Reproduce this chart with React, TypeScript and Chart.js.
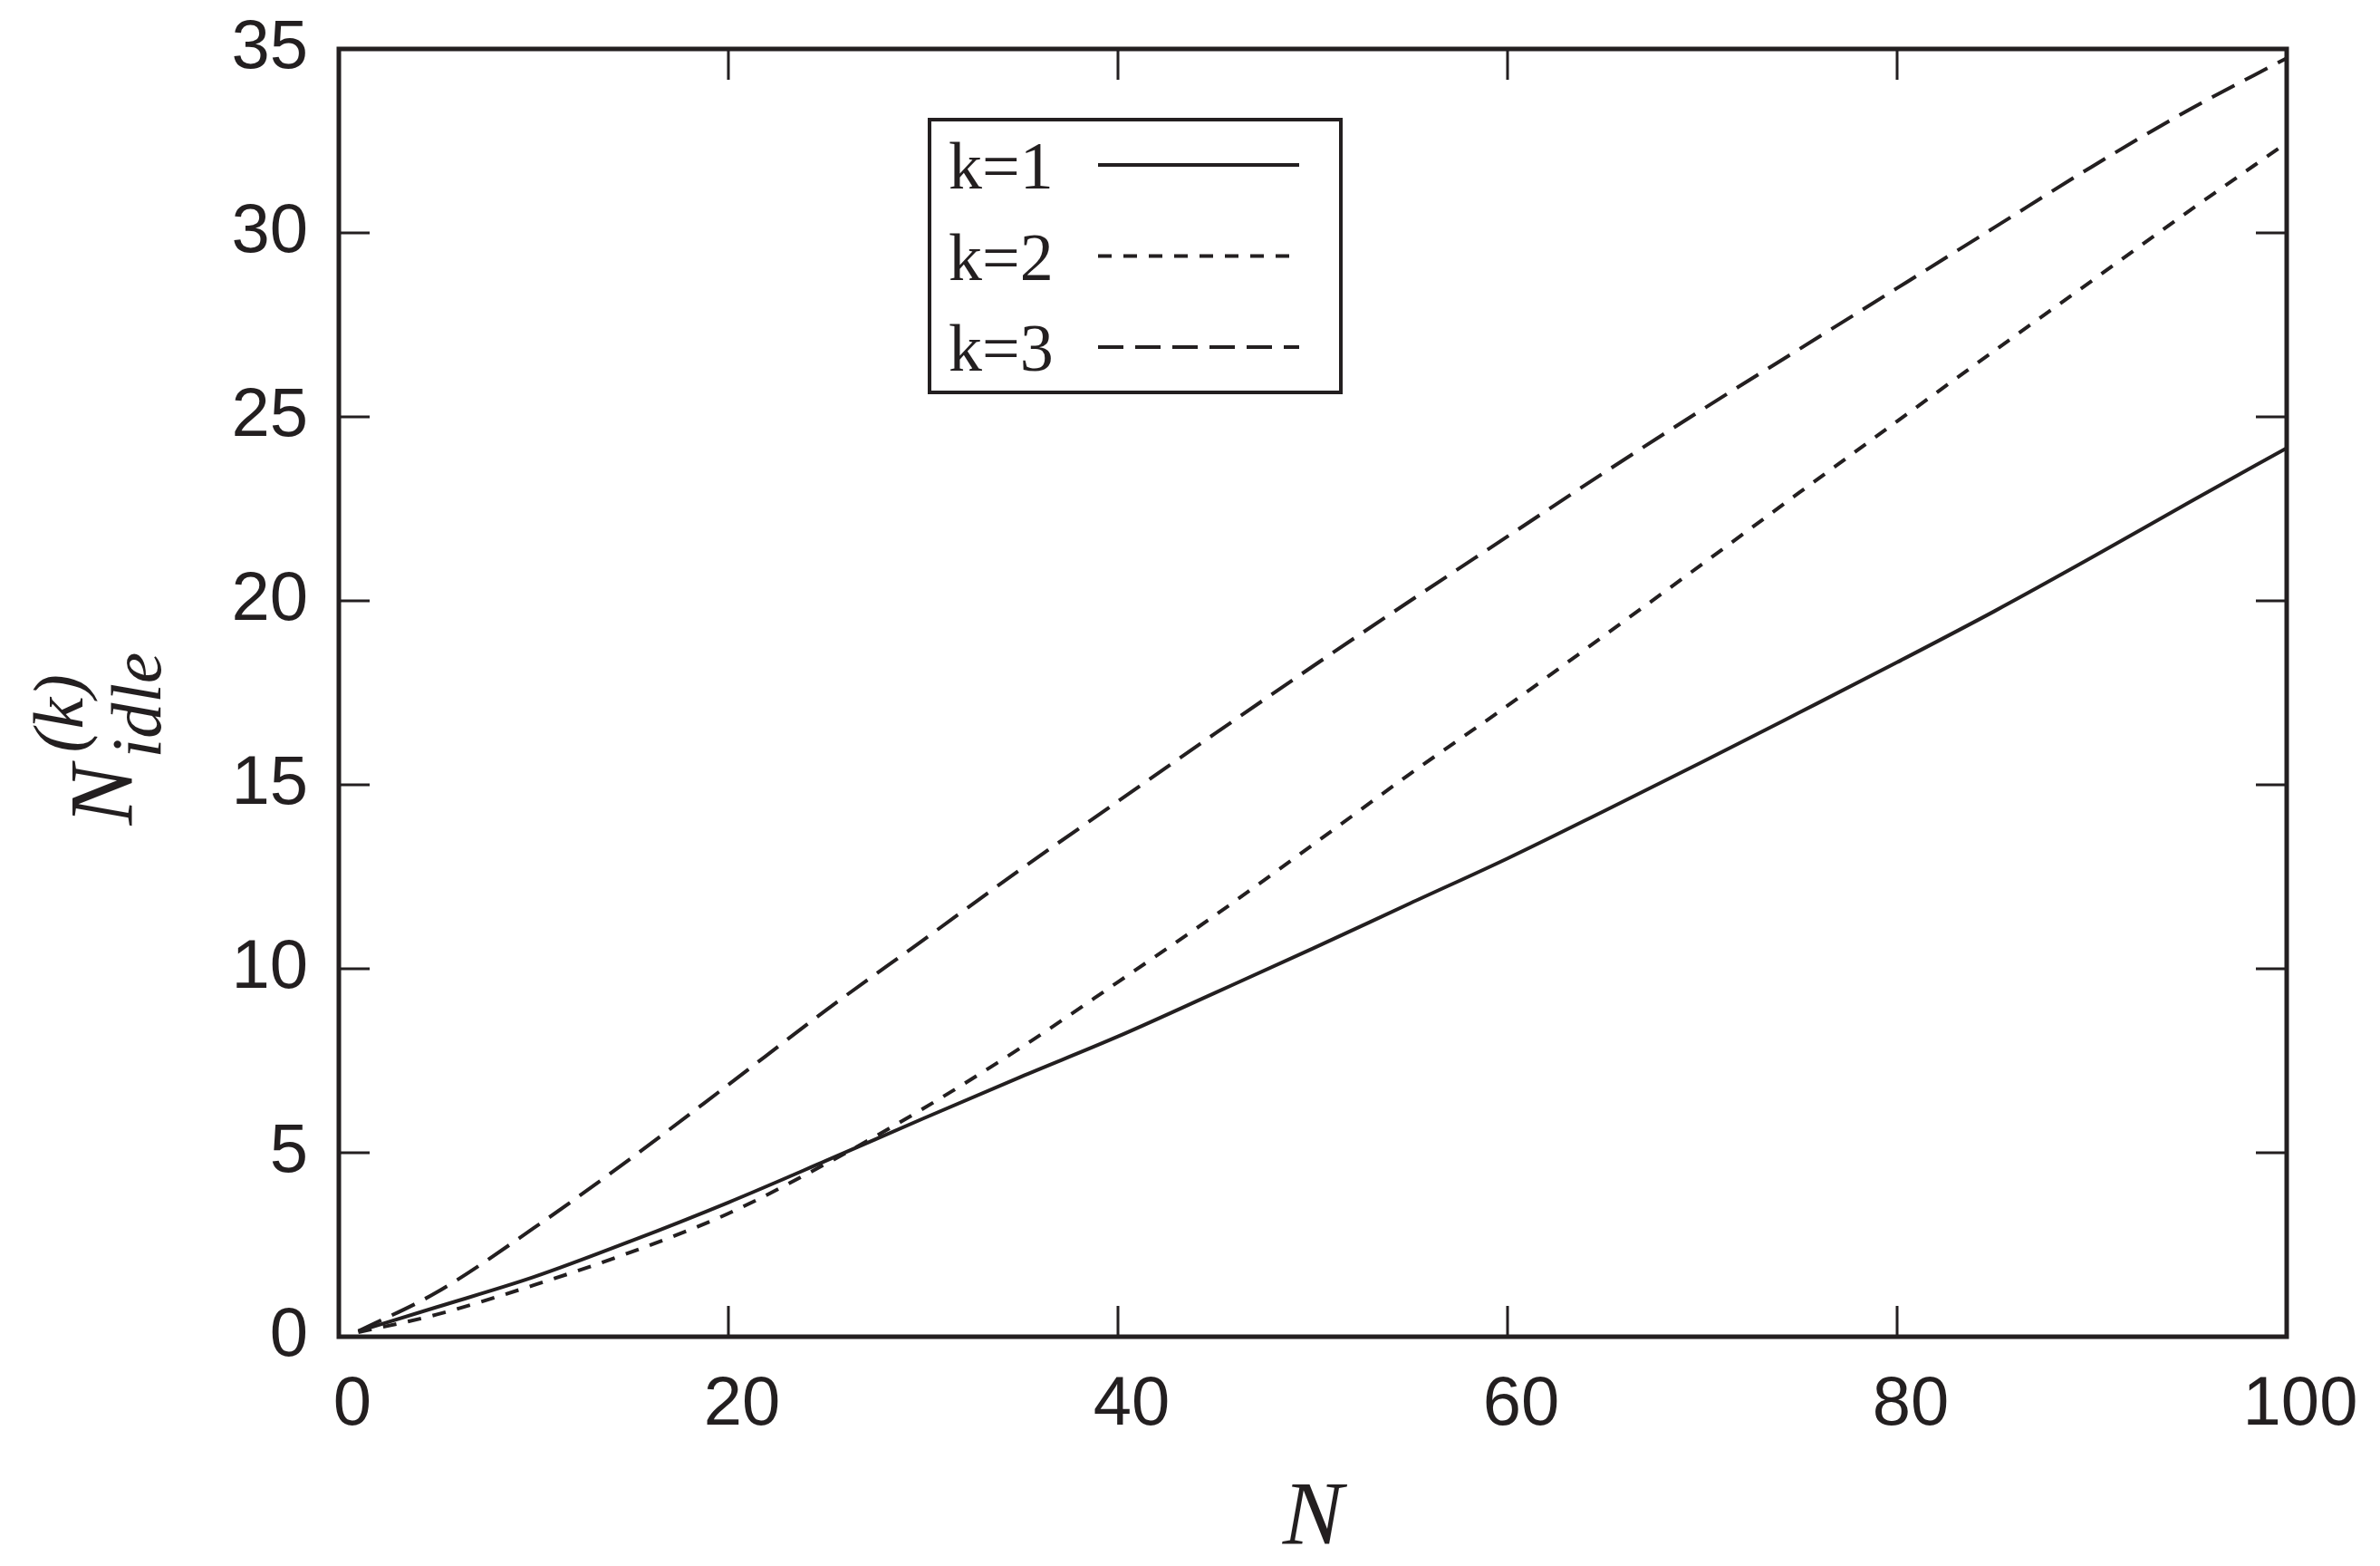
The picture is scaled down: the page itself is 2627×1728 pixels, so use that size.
import React, { useEffect, useRef } from "react";
import { Chart, registerables } from "chart.js";

Chart.register(...registerables);

// ---- data ----
const N_VALUES = [1, 5, 10, 15, 20, 25, 30, 35, 40, 45, 50, 55, 60, 65, 70, 75, 80, 85, 90, 95, 100];
const K1_VALUES = [0.15, 0.8, 1.62, 2.6, 3.65, 4.78, 5.93, 7.06, 8.16, 9.35, 10.55, 11.78, 13.0, 14.3, 15.62, 16.97, 18.33, 19.72, 21.18, 22.68, 24.15];
const K2_VALUES = [0.12, 0.6, 1.4, 2.3, 3.35, 4.7, 6.2, 7.85, 9.64, 11.46, 13.37, 15.3, 17.15, 19.07, 21.0, 22.95, 24.88, 26.8, 28.7, 30.6, 32.45];
const K3_VALUES = [0.15, 1.2, 2.95, 4.85, 6.85, 8.87, 10.78, 12.7, 14.55, 16.4, 18.22, 20.0, 21.75, 23.5, 25.2, 26.85, 28.5, 30.15, 31.8, 33.35, 34.75];
const SERIES_LABELS = ["k=1", "k=2", "k=3"];
const X_TICKS = [0, 20, 40, 60, 80, 100];
const Y_TICKS = [0, 5, 10, 15, 20, 25, 30, 35];
const X_TITLE = "N";
const Y_TITLE_MAIN = "N";
const Y_TITLE_SUP = "(k)";
const Y_TITLE_SUB = "idle";

const INK = "#231f20";
const SANS = "'Liberation Sans', Arial, sans-serif";
const SERIF = "'Liberation Serif', 'Times New Roman', serif";

const W = 2627;
const H = 1728;

const toPoints = (ys: number[]) => N_VALUES.map((x, i) => ({ x, y: ys[i] }));

const zeroPadding = (s: any) => {
  s.paddingTop = 0;
  s.paddingBottom = 0;
  s.paddingLeft = 0;
  s.paddingRight = 0;
};

const decorPlugin = {
  id: "gnuplotDecor",
  afterDatasetsDraw(chart: any) {
    const { ctx, chartArea, scales } = chart;
    const { left, right, top, bottom } = chartArea;
    const xs = scales.x;
    const ys = scales.y;
    const tickLen = 34;
    ctx.save();
    ctx.strokeStyle = INK;
    ctx.setLineDash([]);
    ctx.lineCap = "butt";

    // inward ticks on all four sides
    ctx.lineWidth = 3;
    ctx.beginPath();
    for (const v of X_TICKS) {
      const px = xs.getPixelForValue(v);
      ctx.moveTo(px, bottom);
      ctx.lineTo(px, bottom - tickLen);
      ctx.moveTo(px, top);
      ctx.lineTo(px, top + tickLen);
    }
    for (const v of Y_TICKS) {
      const py = ys.getPixelForValue(v);
      ctx.moveTo(left, py);
      ctx.lineTo(left + tickLen, py);
      ctx.moveTo(right, py);
      ctx.lineTo(right - tickLen, py);
    }
    ctx.stroke();

    // frame
    ctx.lineWidth = 5;
    ctx.strokeRect(left, top, right - left, bottom - top);

    // legend box
    const lx = left + 652;
    const ly = top + 78;
    const lw = 454;
    const lh = 301;
    ctx.lineWidth = 4;
    ctx.strokeRect(lx, ly, lw, lh);
    ctx.font = `74px ${SERIF}`;
    ctx.textAlign = "left";
    ctx.textBaseline = "alphabetic";
    chart.data.datasets.forEach((ds: any, i: number) => {
      const rowY = ly + 50 + i * 100.5;
      ctx.fillStyle = INK;
      ctx.fillText(ds.label, lx + 21, rowY + 26);
      ctx.beginPath();
      ctx.lineWidth = ds.borderWidth;
      ctx.setLineDash(ds.borderDash || []);
      ctx.moveTo(lx + 186, rowY);
      ctx.lineTo(lx + 408, rowY);
      ctx.stroke();
    });
    ctx.setLineDash([]);

    // x title
    ctx.fillStyle = INK;
    ctx.font = `italic 100px ${SERIF}`;
    ctx.textAlign = "center";
    ctx.fillText(X_TITLE, (left + right) / 2, bottom + 228);

    // y title (rotated, with superscript and subscript)
    ctx.save();
    ctx.translate(left - 229, (top + bottom) / 2 + 146);
    ctx.rotate(-Math.PI / 2);
    ctx.textAlign = "left";
    ctx.font = `italic 100px ${SERIF}`;
    ctx.fillText(Y_TITLE_MAIN, 0, 0);
    ctx.font = `italic 78px ${SERIF}`;
    ctx.fillText(Y_TITLE_SUP, 80, -54);
    ctx.fillText(Y_TITLE_SUB, 74, 32);
    ctx.restore();

    ctx.restore();
  },
};

export default function App() {
  const canvasRef = useRef<HTMLCanvasElement | null>(null);

  useEffect(() => {
    const canvas = canvasRef.current;
    if (!canvas) return;
    const common = {
      borderColor: INK,
      backgroundColor: INK,
      borderWidth: 4,
      pointRadius: 0,
      fill: false,
      cubicInterpolationMode: "monotone" as const,
      borderCapStyle: "butt" as const,
    };
    const chart = new Chart(canvas, {
      type: "line",
      data: {
        datasets: [
          { ...common, label: SERIES_LABELS[0], data: toPoints(K1_VALUES), borderDash: [] },
          { ...common, label: SERIES_LABELS[1], data: toPoints(K2_VALUES), borderDash: [15, 13] },
          { ...common, label: SERIES_LABELS[2], data: toPoints(K3_VALUES), borderDash: [28, 13] },
        ],
      },
      options: {
        animation: false,
        responsive: false,
        devicePixelRatio: 1,
        events: [],
        layout: { padding: { top: 54, right: 103, left: 0, bottom: 0 } },
        plugins: {
          legend: { display: false },
          tooltip: { enabled: false },
          title: { display: false },
        },
        scales: {
          x: {
            type: "linear",
            min: 0,
            max: 100,
            afterFit: (s: any) => {
              s.height = H - 1475;
              zeroPadding(s);
            },
            afterBuildTicks: (s: any) => {
              s.ticks = X_TICKS.map((v) => ({ value: v }));
            },
            grid: { display: false, drawTicks: false },
            border: { display: false },
            ticks: {
              color: INK,
              font: { family: SANS, size: 76 },
              padding: 30,
              labelOffset: 15,
              maxRotation: 0,
              autoSkip: false,
            },
          },
          y: {
            type: "linear",
            min: 0,
            max: 35,
            afterFit: (s: any) => {
              s.width = 374;
              zeroPadding(s);
            },
            afterBuildTicks: (s: any) => {
              s.ticks = Y_TICKS.map((v) => ({ value: v }));
            },
            grid: { display: false, drawTicks: false },
            border: { display: false },
            ticks: {
              color: INK,
              font: { family: SANS, size: 76 },
              padding: 34,
              autoSkip: false,
            },
          },
        },
      },
      plugins: [decorPlugin],
    });
    return () => chart.destroy();
  }, []);

  return (
    <div style={{ position: "fixed", left: 0, top: 0, width: W, height: H, background: "#ffffff" }}>
      <canvas ref={canvasRef} width={W} height={H} style={{ display: "block", width: W, height: H }} />
    </div>
  );
}
